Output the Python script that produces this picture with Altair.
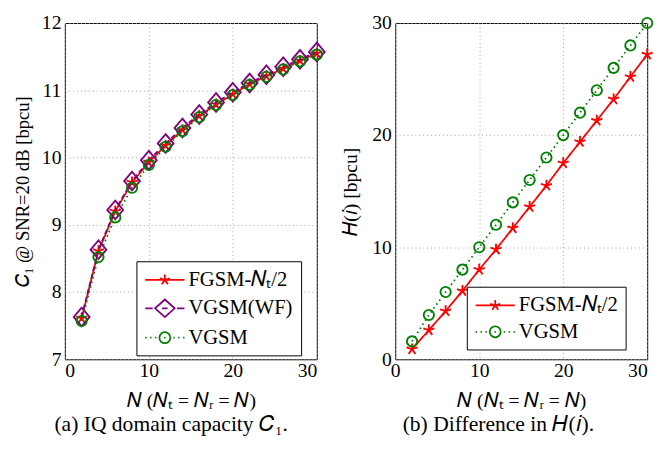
import altair as alt
import pandas as pd

N = [2, 4, 6, 8, 10, 12, 14, 16, 18, 20, 22, 24, 26, 28, 30]

# (a) IQ domain capacity C1 [bpcu]
cap_fgsm = [7.61, 8.61, 9.20, 9.63, 9.93, 10.18, 10.41, 10.62, 10.79, 10.94, 11.09, 11.21, 11.32, 11.44, 11.55]
cap_wf = [7.63, 8.63, 9.22, 9.65, 9.96, 10.21, 10.44, 10.64, 10.82, 10.97, 11.11, 11.23, 11.35, 11.46, 11.57]
cap_vgsm = [7.57, 8.52, 9.11, 9.55, 9.89, 10.16, 10.39, 10.60, 10.78, 10.93, 11.08, 11.20, 11.31, 11.43, 11.53]

# (b) Difference in H(i) [bpcu]
h_fgsm = [0.9, 2.6, 4.3, 6.1, 8.0, 9.8, 11.7, 13.6, 15.5, 17.5, 19.4, 21.3, 23.2, 25.2, 27.2]
h_vgsm = [1.6, 3.95, 6.0, 8.0, 10.0, 12.0, 14.0, 16.0, 18.0, 20.0, 22.0, 24.0, 26.0, 28.0, 30.0]

LBL_FGSM = "FGSM-𝑁ₜ/2"
LBL_WF = "VGSM(WF)"
LBL_VGSM = "VGSM"

FONT = "Liberation Serif"
RED, VIOLET, GREEN = "#ff0000", "#800080", "#008000"

STAR = "M0,0L0,-1M0,0L0.951,-0.309M0,0L0.588,0.809M0,0L-0.588,0.809M0,0L-0.951,-0.309"
DIAMOND = "M0,-1L0.85,0L0,1L-0.85,0Z"
CIRCLE = "M1,0A1,1 0 1,1 -1,0A1,1 0 1,1 1,0Z"

# legend glyphs: a 40px line with the marker in its middle (1 unit = 10px at size 400)
LEG_FGSM = ("M-1,0L3,0M1,0L1,-0.54M1,0L1.514,-0.167M1,0L1.317,0.437"
            "M1,0L0.683,0.437M1,0L0.486,-0.167")
LEG_WF = ("M-1,0L-0.24,0M2.24,0L3,0M0.72,0L1.28,0"
          "M1,-0.9L2,0L1,0.9L0,0Z")
LEG_VGSM = ("M-1,0L-0.86,0M-0.5,0L-0.36,0M0,0L0.14,0M1.86,0L2,0"
            "M2.36,0L2.5,0M2.86,0L3,0M0.93,0L1.07,0"
            "M1.56,0A0.56,0.56 0 1,1 0.44,0A0.56,0.56 0 1,1 1.56,0Z")

COLOR = {LBL_FGSM: RED, LBL_WF: VIOLET, LBL_VGSM: GREEN}
DASH = {LBL_FGSM: [1, 0], LBL_WF: [5, 3], LBL_VGSM: [1.6, 3.4]}
SHAPE = {LBL_FGSM: STAR, LBL_WF: DIAMOND, LBL_VGSM: CIRCLE}
SIZE = {LBL_FGSM: 140, LBL_WF: 361, LBL_VGSM: 110}
LEGSHAPE = {LBL_FGSM: LEG_FGSM, LBL_WF: LEG_WF, LBL_VGSM: LEG_VGSM}


def long_df(series):
    rows = []
    for name, vals in series:
        for n, v in zip(N, vals):
            rows.append({"N": n, "v": v, "s": name})
    return pd.DataFrame(rows)


def panel(series, ydom, yticks, ytitle, ytsize, ytpad, caption, lx, ly, flush_last):
    df = long_df(series)
    names = [s[0] for s in series]

    xaxis = dict(values=[0, 10, 20, 30], title="𝑁 (𝑁ₜ = 𝑁ᵣ = 𝑁)")
    if flush_last:
        xaxis["labelAlign"] = {"condition": {"test": "datum.value == 30", "value": "right"},
                               "value": "center"}
    x = alt.X("N:Q", scale=alt.Scale(domain=[0, 30], nice=False), axis=alt.Axis(**xaxis))
    y = alt.Y("v:Q", scale=alt.Scale(domain=ydom, nice=False),
              axis=alt.Axis(values=yticks, title=ytitle, titleFontSize=ytsize,
                            titlePadding=ytpad))

    layers = []
    for name in names:
        sub = df[df["s"] == name]
        layers.append(alt.Chart(sub).mark_line(
            color=COLOR[name], strokeWidth=1.8, strokeDash=DASH[name]).encode(x=x, y=y))
        layers.append(alt.Chart(sub).mark_point(
            shape=SHAPE[name], size=SIZE[name], color=COLOR[name], filled=False,
            strokeWidth=1.9, opacity=1).encode(x=x, y=y))

    legprops = dict(title=None, orient="none", legendX=lx, legendY=ly,
                    symbolSize=400, symbolOpacity=1, symbolStrokeWidth=1.8,
                    symbolFillColor="transparent",
                    labelFont=FONT, labelFontSize=21, labelColor="black", labelLimit=300,
                    strokeColor="black", fillColor="white", padding=8,
                    rowPadding=6, labelOffset=23, cornerRadius=0)
    leg = alt.Chart(df).mark_point(filled=False, strokeWidth=1.8, opacity=0).encode(
        x=x, y=y,
        color=alt.Color("s:N", scale=alt.Scale(domain=names, range=[COLOR[n] for n in names]),
                        legend=alt.Legend(**legprops)),
        shape=alt.Shape("s:N", scale=alt.Scale(domain=names, range=[LEGSHAPE[n] for n in names]),
                        legend=alt.Legend(**legprops)),
    )
    layers.append(leg)
    return alt.layer(*layers).properties(
        width=257, height=343,
        title=alt.TitleParams(caption, orient="bottom", font=FONT, fontSize=22,
                              fontWeight="normal", color="black", offset=4,
                              frame="bounds", anchor="middle"),
    )


left = panel([(LBL_FGSM, cap_fgsm), (LBL_WF, cap_wf), (LBL_VGSM, cap_vgsm)],
             [7, 12], [7, 8, 9, 10, 11, 12], "𝐶₁ @ SNR=20 dB [bpcu]", 19, 9,
             "(a) IQ domain capacity 𝐶₁.", 73, 243, False)
right = panel([(LBL_FGSM, h_fgsm), (LBL_VGSM, h_vgsm)],
              [0, 30], [0, 10, 20, 30], "𝐻(𝑖) [bpcu]", 20, 12,
              "(b) Difference in 𝐻(𝑖).", 73, 269, True)

chart = alt.hconcat(left, right, spacing=10).resolve_scale(
    color="independent", shape="independent"
).properties(padding={"left": 5, "top": 0, "right": 0, "bottom": 0}).configure_view(
    stroke="black", strokeWidth=1
).configure_axis(
    labelFont=FONT, titleFont=FONT, labelFontSize=20, titleFontSize=20,
    labelColor="black", titleColor="black", titleFontWeight="normal",
    domain=False, ticks=False, grid=True, gridColor="#a0a0a0", gridDash=[1, 3],
    gridWidth=1, labelPadding=4,
).configure_axisX(titlePadding=10, labelPadding=2)

chart.save("out.html", embed_options={"renderer": "svg", "actions": False})
